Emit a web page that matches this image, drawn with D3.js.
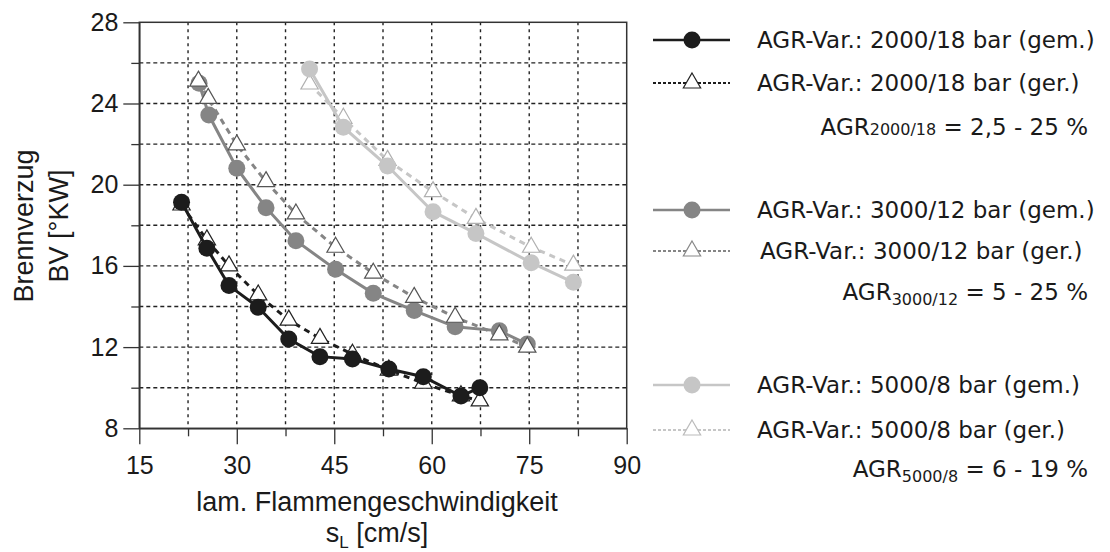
<!DOCTYPE html>
<html>
<head>
<meta charset="utf-8">
<script src="https://cdn.jsdelivr.net/npm/d3@7"></script>
<style>
  html, body { margin: 0; padding: 0; background: #fff; }
  svg { display: block; }
</style>
</head>
<body>
<svg id="chart" width="1110" height="552"></svg>
<script>
// Laminar flame speed s_L [cm/s] vs. ignition delay BV [°KW]
// gem. = gemessen (circles, solid), ger. = gerechnet (triangles, dashed)

const sL_2000 = [21.5, 25.4, 28.8, 33.3, 38.0, 42.8, 47.8, 53.4, 58.7, 64.5, 67.4];
const bv_2000_gem = [19.13, 16.87, 15.03, 13.96, 12.4, 11.53, 11.41, 10.92, 10.54, 9.59, 10.0];
const bv_2000_ger = [19.0, 17.28, 16.0, 14.57, 13.33, 12.43, 11.65, 10.87, 10.22, 9.6, 9.35];

const sL_3000 = [24.2, 25.7, 30.0, 34.5, 39.1, 45.2, 51.0, 57.3, 63.6, 70.4, 74.7];
const bv_3000_gem = [25.0, 23.43, 20.81, 18.87, 17.24, 15.83, 14.65, 13.8, 13.0, 12.8, 12.15];
const sL_3000_ger = [24.1, 25.6, 30.0, 34.5, 39.1, 45.2, 51.0, 57.3, 63.6, 70.4, 74.7];
const bv_3000_ger = [25.1, 24.25, 21.96, 20.15, 18.56, 16.92, 15.64, 14.45, 13.47, 12.6, 12.0];

const sL_5000 = [41.2, 46.4, 53.2, 60.2, 66.8, 75.3, 81.8];
const bv_5000_gem = [25.7, 22.83, 20.92, 18.67, 17.6, 16.16, 15.19];
const bv_5000_ger = [24.96, 23.27, 21.2, 19.66, 18.34, 16.92, 16.04];

const xTicks = [15, 22.5, 30, 37.5, 45, 52.5, 60, 67.5, 75, 82.5, 90];
const xTickLabels = [15, 30, 45, 60, 75, 90];
const yTicks = [8, 10, 12, 14, 16, 18, 20, 22, 24, 26, 28];
const yTickLabels = [8, 12, 16, 20, 24, 28];

const legendLabels = [
  "AGR-Var.: 2000/18 bar (gem.)", "AGR-Var.: 2000/18 bar (ger.)",
  "AGR-Var.: 3000/12 bar (gem.)", "AGR-Var.: 3000/12 bar (ger.)",
  "AGR-Var.: 5000/8 bar (gem.)", "AGR-Var.: 5000/8 bar (ger.)"
];
const agrSub = ["2000/18", "3000/12", "5000/8"];
const agrRange = [" = 2,5 - 25 %", " = 5 - 25 %", " = 6 - 19 %"];

const C_BLACK = "#1c1c1c", C_DARK = "#858585", C_LIGHT = "#c6c6c6";

const svg = d3.select("#chart");
const x = d3.scaleLinear().domain([15, 90]).range([139.3, 626.7]);
const y = d3.scaleLinear().domain([8, 28]).range([428.3, 22.3]);
const AX = "Liberation Sans, Arial, sans-serif";
const LG = "DejaVu Sans, Verdana, sans-serif";

// grid
const grid = svg.append("g");
grid.selectAll("line.v").data(xTicks.slice(1, -1)).join("line")
  .attr("x1", d => x(d)).attr("x2", d => x(d))
  .attr("y1", y(28)).attr("y2", y(8))
  .attr("stroke", "#222").attr("stroke-width", 1.4).attr("stroke-dasharray", "3,4");
grid.selectAll("line.h").data(yTicks.slice(1, -1)).join("line")
  .attr("x1", x(15)).attr("x2", x(90))
  .attr("y1", d => y(d)).attr("y2", d => y(d))
  .attr("stroke", "#222").attr("stroke-width", 1.4).attr("stroke-dasharray", "4,3");

// frame
svg.append("rect").attr("x", x(15)).attr("y", y(28))
  .attr("width", x(90) - x(15)).attr("height", y(8) - y(28))
  .attr("fill", "none").attr("stroke", "#333").attr("stroke-width", 1.5);

// axes
const xAxis = svg.append("g").attr("transform", `translate(0,${y(8)})`)
  .call(d3.axisBottom(x).tickValues(xTicks).tickSizeOuter(0)
    .tickFormat(d => xTickLabels.includes(d) ? d : ""));
xAxis.select(".domain").attr("stroke", "#333").attr("stroke-width", 1.5);
xAxis.selectAll(".tick line").attr("stroke", "#333").attr("stroke-width", 1.3)
  .attr("y2", d => xTickLabels.includes(d) ? 16 : 8);
xAxis.selectAll(".tick text").attr("font-family", AX).attr("font-size", 25)
  .attr("fill", "#1a1a1a").attr("y", 28);

const yAxis = svg.append("g").attr("transform", `translate(${x(15)},0)`)
  .call(d3.axisLeft(y).tickValues(yTicks).tickSizeOuter(0)
    .tickFormat(d => yTickLabels.includes(d) ? d : ""));
yAxis.select(".domain").attr("stroke", "#333").attr("stroke-width", 1.5);
yAxis.selectAll(".tick line").attr("stroke", "#333").attr("stroke-width", 1.3)
  .attr("x2", d => yTickLabels.includes(d) ? -16 : -8);
yAxis.selectAll(".tick text").attr("font-family", AX).attr("font-size", 25)
  .attr("fill", "#1a1a1a").attr("x", -21);

// axis titles
svg.append("text").attr("x", 377).attr("y", 511).attr("text-anchor", "middle")
  .attr("font-family", AX).attr("font-size", 27).attr("fill", "#1a1a1a")
  .text("lam. Flammengeschwindigkeit");
const sl = svg.append("text").attr("x", 377).attr("y", 542).attr("text-anchor", "middle")
  .attr("font-family", AX).attr("font-size", 27).attr("fill", "#1a1a1a");
sl.append("tspan").text("s");
sl.append("tspan").attr("font-size", 17).attr("dy", 6).text("L");
sl.append("tspan").attr("dy", -6).text(" [cm/s]");

const yt = svg.append("text").attr("transform", "translate(33,226) rotate(-90)")
  .attr("text-anchor", "middle").attr("font-family", AX).attr("font-size", 27).attr("fill", "#1a1a1a");
yt.append("tspan").attr("x", 0).attr("dy", 0).text("Brennverzug");
yt.append("tspan").attr("x", 0).attr("dy", 35).text("BV [°KW]");

// series
const line = d3.line().x(d => x(d[0])).y(d => y(d[1]));
const tri = d3.symbol().type(d3.symbolTriangle).size(130);
const plot = svg.append("g");

function gem(xs, ys, color) {
  const pts = xs.map((v, i) => [v, ys[i]]);
  plot.append("path").attr("d", line(pts)).attr("fill", "none")
    .attr("stroke", color).attr("stroke-width", 3);
  plot.selectAll(null).data(pts).join("circle")
    .attr("cx", d => x(d[0])).attr("cy", d => y(d[1])).attr("r", 8.5).attr("fill", color);
}
function ger(xs, ys, color, mstroke) {
  const pts = xs.map((v, i) => [v, ys[i]]);
  plot.append("path").attr("d", line(pts)).attr("fill", "none")
    .attr("stroke", color).attr("stroke-width", 3).attr("stroke-dasharray", "6,5");
  plot.selectAll(null).data(pts).join("path")
    .attr("d", tri).attr("transform", d => `translate(${x(d[0])},${y(d[1])})`)
    .attr("fill", "#fff").attr("stroke", mstroke).attr("stroke-width", 1.2);
}

ger(sL_5000, bv_5000_ger, C_LIGHT, "#b0b0b0");
gem(sL_5000, bv_5000_gem, C_LIGHT);
gem(sL_3000, bv_3000_gem, C_DARK);
ger(sL_3000_ger, bv_3000_ger, C_DARK, "#555");
ger(sL_2000, bv_2000_ger, C_BLACK, "#222");
gem(sL_2000, bv_2000_gem, C_BLACK);

// legend
const lg = svg.append("g");
const legendRows = [
  { y: 40, color: C_BLACK, type: "gem", ms: C_BLACK },
  { y: 83, color: C_BLACK, type: "ger", ms: "#222" },
  { y: 210, color: C_DARK, type: "gem", ms: C_DARK },
  { y: 251, color: C_DARK, type: "ger", ms: "#888" },
  { y: 385, color: C_LIGHT, type: "gem", ms: C_LIGHT },
  { y: 430, color: C_LIGHT, type: "ger", ms: "#bbb" }
];
legendRows.forEach((r, i) => {
  lg.append("line").attr("x1", 653).attr("x2", 730).attr("y1", r.y).attr("y2", r.y)
    .attr("stroke", r.color).attr("stroke-width", r.type === "gem" ? 2.5 : 2)
    .attr("stroke-dasharray", r.type === "gem" ? null : "3,2");
  if (r.type === "gem") {
    lg.append("circle").attr("cx", 692).attr("cy", r.y).attr("r", 8.5).attr("fill", r.color);
  } else {
    lg.append("path").attr("d", tri).attr("transform", `translate(692,${r.y})`)
      .attr("fill", "#fff").attr("stroke", r.ms).attr("stroke-width", 1.2);
  }
  lg.append("text").attr("x", i === 3 ? 760 : 757).attr("y", r.y).attr("dy", "0.36em")
    .attr("font-family", LG).attr("font-size", 23).attr("fill", "#1a1a1a")
    .text(legendLabels[i]);
});

const agrY = [135, 300, 477];
agrSub.forEach((s, i) => {
  const t = lg.append("text").attr("x", 1088).attr("y", agrY[i]).attr("text-anchor", "end")
    .attr("font-family", LG).attr("font-size", 23).attr("fill", "#1a1a1a");
  t.append("tspan").text("AGR");
  t.append("tspan").attr("font-size", 16).attr("dy", i === 0 ? 0 : 5).text(s);
  t.append("tspan").attr("dy", i === 0 ? 0 : -5).text(agrRange[i]);
});
</script>
</body>
</html>
